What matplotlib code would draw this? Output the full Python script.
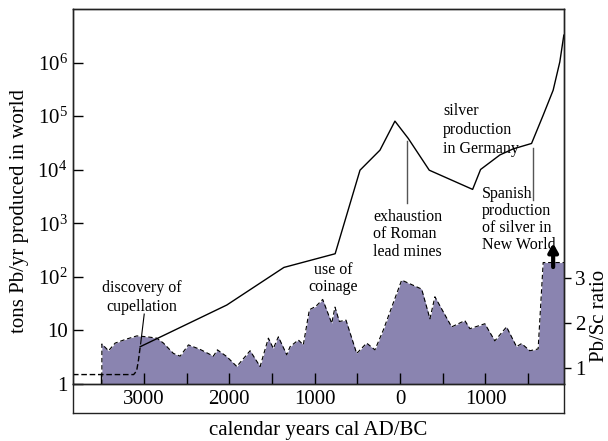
import matplotlib.pyplot as plt
from matplotlib.ticker import NullLocator

plt.rcParams['font.family'] = ['Liberation Serif', 'DejaVu Serif']
plt.rcParams['mathtext.fontset'] = 'custom'
plt.rcParams['mathtext.rm'] = 'Liberation Serif'
plt.rcParams['mathtext.it'] = 'Liberation Serif:italic'

# world lead production (tons Pb/yr), dashed before cupellation
early_years = [-3830, -3120, -3085, -3063, -3043]
early_prod = [1.5, 1.5, 1.75, 2.8, 4.97]
prod_years = [-3043, -2029, -1360, -760, -469, -235, -60, 96, 342, 850,
              943, 1170, 1325, 1540, 1676, 1793, 1871, 1918]
prod_vals = [4.97, 29.8, 150, 270, 9800, 23200, 80700, 38400, 9800, 4290,
             10100, 18900, 24500, 30900, 104000, 305000, 1.03e6, 3.25e6]

# Pb/Sc ratio record
ratio_years = [-3492, -3414, -3336, -3219, -3082, -2965, -2848, -2771, -2654, -2575,
               -2478, -2341, -2186, -2139, -2029, -1912, -1756, -1639, -1542, -1484,
               -1425, -1327, -1288, -1191, -1133, -1062, -984, -906, -800, -762,
               -711, -633, -508, -391, -294, -196, 19, 253, 350, 408,
               604, 759, 818, 993, 1110, 1247, 1364, 1423, 1520, 1617,
               1676, 1920]
ratio_vals = [1.54, 1.39, 1.56, 1.64, 1.72, 1.70, 1.67, 1.56, 1.33, 1.27,
              1.52, 1.42, 1.27, 1.41, 1.26, 1.04, 1.39, 1.04, 1.67, 1.44,
              1.70, 1.30, 1.48, 1.63, 1.52, 2.30, 2.38, 2.53, 2.00, 2.36,
              2.04, 2.07, 1.33, 1.56, 1.41, 1.85, 2.96, 2.76, 2.10, 2.59,
              1.92, 2.06, 1.88, 1.99, 1.61, 1.92, 1.48, 1.55, 1.39, 1.43,
              3.35, 3.35]

x_major = [-3000, -2000, -1000, 0, 1000]
x_minor = [-3500, -2500, -1500, -500, 500, 1500]
y_left = [1, 10, 1e2, 1e3, 1e4, 1e5, 1e6]
y_left_labels = ['1', '10', '$10^2$', '$10^3$', '$10^4$', '$10^5$', '$10^6$']
y_right = [1, 2, 3]

fill_color = '#8a84b0'
W, H = 608, 441
L, R = 73 / W, 564 / W

fig = plt.figure(figsize=(6.08, 4.41), dpi=100)

# lower strip holding the year labels
ax_low = fig.add_axes([L, 1 - 413 / H, R - L, 29 / H])
ax_low.set_xticks([])
ax_low.set_yticks([])
ax_low.spines['top'].set_visible(False)
ax_low.patch.set_visible(False)

ax = fig.add_axes([L, 1 - 384 / H, R - L, 375 / H])
ax2 = ax.twinx()
ax.set_zorder(ax2.get_zorder() + 1)
ax.patch.set_visible(False)

ax.set_xlim(-3830, 1920)
ax.set_yscale('log')
ax.set_ylim(1, 1e7)
ax2.set_ylim(0.651, 8.984)

# Pb/Sc fill
ax2.fill_between(ratio_years, 0.651, ratio_vals, color=fill_color, lw=0)
ax2.plot([ratio_years[0]] + ratio_years, [0.651] + ratio_vals,
         color='k', lw=0.8, ls=(0, (4, 2.5)))
ax2.annotate('', xy=(1793, 3.78), xytext=(1793, 3.25),
             arrowprops=dict(arrowstyle='-|>,head_width=0.28,head_length=0.5',
                             lw=3, color='k', shrinkA=0, shrinkB=0))

# production curve
ax.plot(early_years, early_prod, color='k', lw=1.0, ls=(0, (4, 2)))
ax.plot(prod_years, prod_vals, color='k', lw=1.0)

ax.set_xticks(x_major)
ax.set_xticklabels([str(abs(t)) for t in x_major])
ax.set_xticks(x_minor, minor=True)
ax.tick_params(axis='x', which='both', direction='in', length=8, width=1,
               labelsize=15, pad=4)
ax.set_yticks(y_left)
ax.set_yticklabels(y_left_labels)
ax.yaxis.set_minor_locator(NullLocator())
ax.tick_params(axis='y', which='major', direction='in', length=7, width=1,
               labelsize=15, pad=4)
ax2.set_yticks(y_right)
ax2.tick_params(axis='y', direction='out', length=5, width=1, labelsize=15, pad=3)

for a in (ax, ax2, ax_low):
    for s in a.spines.values():
        s.set_linewidth(1.0)
        s.set_color('#222222')

# annotations
fs = 11.5
ax.text(-3020, 42, 'discovery of\ncupellation', fontsize=fs, ha='center', va='center',
        linespacing=1.25)
ax.plot([-2996, -3038], [20.2, 5.6], color='k', lw=0.8)
ax.text(-778, 93, 'use of\ncoinage', fontsize=fs, ha='center', va='center',
        linespacing=1.1)
ax.text(-316, 620, 'exhaustion\nof Roman\nlead mines', fontsize=fs, ha='left',
        va='center', linespacing=1.12)
ax.plot([81, 81], [34200, 2380], color='#555555', lw=1.0)
ax.text(505, 54800, 'silver\nproduction\nin Germany', fontsize=fs, ha='left',
        va='center', linespacing=1.25)
ax.text(955, 1198, 'Spanish\nproduction\nof silver in\nNew World', fontsize=fs,
        ha='left', va='center', linespacing=1.08)
ax.plot([1552, 1552], [24900, 2710], color='#555555', lw=1.0)

fig.text(318.5 / W, 1 - 430 / H, 'calendar years cal AD/BC', fontsize=15,
         ha='center', va='center')
fig.text(20 / W, 1 - 211 / H, 'tons Pb/yr produced in world', fontsize=15,
         rotation=90, ha='center', va='center')
fig.text(599 / W, 1 - 316 / H, 'Pb/Sc ratio', fontsize=15, rotation=90,
         ha='center', va='center')

fig.savefig('out.png', dpi=100)
